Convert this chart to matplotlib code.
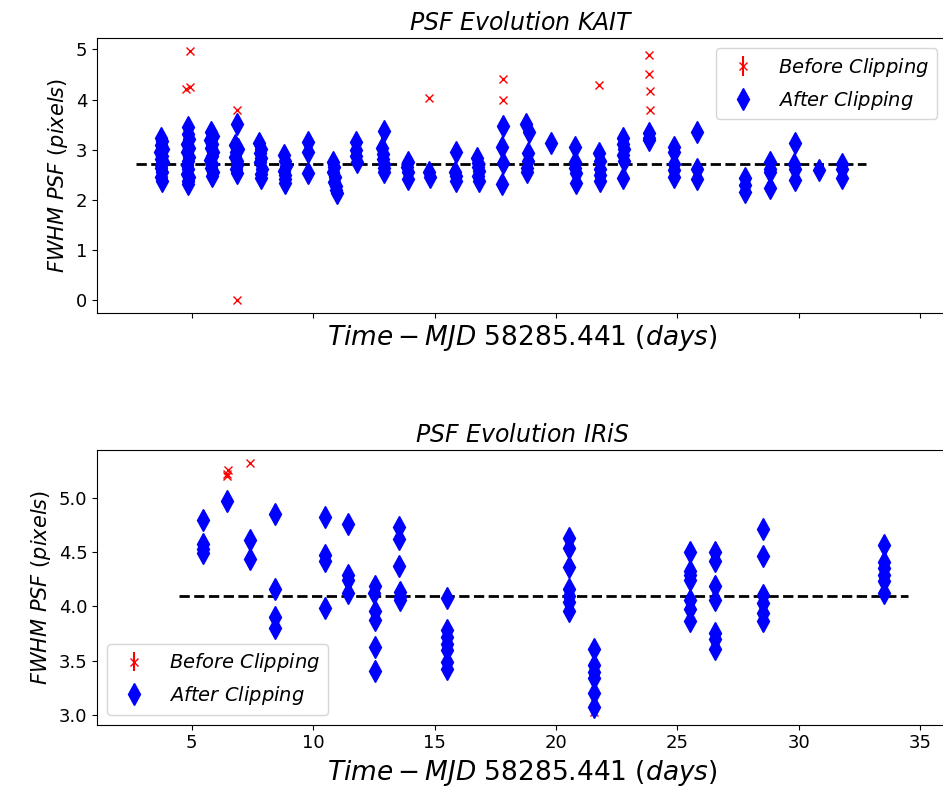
import matplotlib
matplotlib.use('Agg')
import matplotlib.pyplot as plt
import numpy as np

# KAIT - pontos mantidos depois do clipping (tempo, fwhm)
kait_t = [3.72, 3.80, 3.75, 3.83, 3.70, 3.78, 3.74, 3.81, 3.76, 3.72, 3.79, 3.75, 3.77,
          4.86, 4.84, 4.90, 4.80, 4.88, 4.83, 4.91, 4.85, 4.79, 4.87, 4.82, 4.89, 4.85, 4.86,
          5.80, 5.86, 5.76, 5.84, 5.79, 5.88, 5.82, 5.77, 5.85, 5.81, 5.87, 5.83,
          6.86, 6.80, 6.90, 6.84, 6.78, 6.88, 6.85, 6.82, 6.87,
          7.78, 7.84, 7.80, 7.86, 7.82, 7.88, 7.85, 7.86,
          8.80, 8.84, 8.88, 8.82, 8.86, 8.84, 8.85,
          9.79, 9.79, 9.79,
          10.82, 10.86, 10.84, 10.90, 10.88, 10.94, 10.96, 10.98,
          11.78, 11.76, 11.78, 11.80,
          12.90, 12.84, 12.88, 12.86, 12.90, 12.92, 12.92,
          13.90, 13.88, 13.92, 13.90,
          14.78, 14.80,
          15.88, 15.86, 15.90, 15.88,
          16.76, 16.80, 16.78, 16.82, 16.80, 16.82,
          17.80, 17.78, 17.80, 17.78,
          18.78, 18.88, 18.86, 18.84, 18.82, 18.80,
          19.80,
          20.78, 20.80, 20.80, 20.82, 20.84,
          21.78, 21.80, 21.80, 21.82, 21.82,
          22.76, 22.78, 22.80, 22.78, 22.80, 22.76,
          23.82, 23.84, 23.84,
          24.84, 24.86, 24.86, 24.84, 24.86,
          25.82, 25.82, 25.82,
          27.78, 27.78, 27.78,
          28.80, 28.80, 28.80, 28.80,
          29.84, 29.82, 29.84, 29.84,
          30.82,
          31.78, 31.78, 31.78]
kait_fwhm = [3.24, 3.18, 3.10, 3.02, 2.95, 2.88, 2.82, 2.76, 2.70, 2.63, 2.55, 2.46, 2.37,
             3.46, 3.32, 3.22, 3.12, 3.04, 2.95, 2.86, 2.78, 2.70, 2.62, 2.52, 2.45, 2.38, 2.31,
             3.36, 3.28, 3.20, 3.12, 3.04, 2.96, 2.88, 2.80, 2.72, 2.64, 2.55, 2.47,
             3.52, 3.09, 3.02, 2.95, 2.86, 2.78, 2.70, 2.62, 2.53,
             3.13, 3.02, 2.93, 2.84, 2.75, 2.62, 2.52, 2.43,
             2.89, 2.78, 2.68, 2.58, 2.50, 2.42, 2.34,
             3.16, 2.96, 2.53,
             2.76, 2.66, 2.55, 2.45, 2.36, 2.27, 2.20, 2.14,
             3.15, 3.00, 2.87, 2.75,
             3.38, 3.03, 2.92, 2.82, 2.72, 2.63, 2.56,
             2.76, 2.65, 2.55, 2.42,
             2.56, 2.45,
             2.96, 2.55, 2.47, 2.37,
             2.83, 2.74, 2.66, 2.57, 2.47, 2.38,
             3.48, 3.06, 2.73, 2.31,
             3.52, 3.36, 2.94, 2.78, 2.64, 2.55,
             3.13,
             3.06, 2.76, 2.64, 2.53, 2.33,
             2.93, 2.78, 2.62, 2.50, 2.37,
             3.23, 3.12, 3.02, 2.90, 2.78, 2.43,
             3.33, 3.24, 3.19,
             3.06, 2.96, 2.72, 2.60, 2.46,
             3.36, 2.62, 2.42,
             2.43, 2.30, 2.16,
             2.76, 2.62, 2.55, 2.23,
             3.13, 2.72, 2.62, 2.40,
             2.59,
             2.72, 2.62, 2.43]
# KAIT - pontos removidos pelo clipping
kait_out_t = [4.93, 4.77, 4.93, 6.85, 6.85, 14.79, 17.80, 17.80, 21.78, 23.82, 23.82, 23.86, 23.86]
kait_out_fwhm = [4.97, 4.20, 4.25, 3.80, 0.00, 4.04, 4.40, 3.99, 4.29, 4.89, 4.50, 4.18, 3.79]
kait_media = 2.72

# IRiS
iris_t = [5.47, 5.47, 5.47, 5.47,
          6.46,
          7.42, 7.42,
          8.45, 8.45, 8.45, 8.45,
          10.50, 10.50, 10.50, 10.50,
          11.42, 11.42, 11.42, 11.42,
          12.55, 12.52, 12.54, 12.56, 12.54, 12.56,
          13.54, 13.54, 13.54, 13.56, 13.56, 13.56,
          15.50, 15.50, 15.50, 15.50, 15.50, 15.50, 15.50,
          20.52, 20.52, 20.52, 20.52, 20.52, 20.52, 20.52,
          21.55, 21.55, 21.55, 21.55, 21.55, 21.55,
          25.52, 25.52, 25.52, 25.52, 25.52, 25.52, 25.52,
          26.54, 26.54, 26.54, 26.54, 26.54, 26.54, 26.54,
          28.52, 28.52, 28.52, 28.52, 28.52, 28.52,
          33.50, 33.50, 33.50, 33.50, 33.50, 33.50]
iris_fwhm = [4.79, 4.57, 4.53, 4.49,
             4.97,
             4.61, 4.44,
             4.85, 4.16, 3.90, 3.80,
             4.82, 4.47, 4.42, 3.99,
             4.76, 4.29, 4.24, 4.12,
             4.19, 4.12, 3.96, 3.88, 3.63, 3.41,
             4.73, 4.62, 4.37, 4.13, 4.09, 4.06,
             4.08, 3.78, 3.72, 3.66, 3.60, 3.49, 3.43,
             4.63, 4.54, 4.36, 4.16, 4.10, 4.04, 3.96,
             3.61, 3.46, 3.40, 3.34, 3.21, 3.08,
             4.50, 4.33, 4.29, 4.24, 4.06, 3.98, 3.87,
             4.50, 4.42, 4.19, 4.06, 3.76, 3.70, 3.61,
             4.71, 4.46, 4.11, 4.03, 3.94, 3.87,
             4.56, 4.41, 4.35, 4.29, 4.23, 4.12]
iris_out_t = [6.48, 6.46, 6.44, 7.42, 21.55]
iris_out_fwhm = [5.25, 5.22, 5.20, 5.32, 3.03]
iris_media = 4.10

tele = [('KAIT', kait_t, kait_fwhm, kait_out_t, kait_out_fwhm, kait_media, 'upper right'),
        ('IRiS', iris_t, iris_fwhm, iris_out_t, iris_out_fwhm, iris_media, 'lower left')]

fig, axs = plt.subplots(2, 1, figsize=(9.43, 7.99), dpi=100, sharex=True)
# o lado direito do eixo fica um pouco fora da figura (igual ao original recortado)
fig.subplots_adjust(left=0.103, right=1.004, top=0.952, bottom=0.093, hspace=0.50)

for ax, (nome, t, f, tout, fout, media, loc) in zip(axs, tele):
  # antes do clipping = todos os pontos
  t_all = np.concatenate([t, tout])
  f_all = np.concatenate([f, fout])
  ax.errorbar(t_all, f_all, yerr=np.zeros(len(t_all)), fmt='rx', ms=6,
              label=r'$Before\ Clipping$')
  ax.errorbar(t, f, yerr=np.zeros(len(t)), fmt='bd', ms=11,
              label=r'$After\ Clipping$')
  ax.plot([min(t) - 1, max(t) + 1], [media, media], 'k--', lw=2)
  ax.set_title(r'$PSF\ Evolution\ $' + '$' + nome + '$', fontsize=17)
  ax.set_ylabel(r'$FWHM\ PSF\ (pixels)$', fontsize=15)
  ax.set_xlabel(r'$Time-MJD$ 58285.441 $(days)$', fontsize=19)
  ax.xaxis.set_tick_params(labelbottom=(ax is axs[1]), labelsize=13)
  ax.yaxis.set_tick_params(labelsize=13)
  ax.legend(loc=loc, fontsize=14)

plt.savefig('out.png')
